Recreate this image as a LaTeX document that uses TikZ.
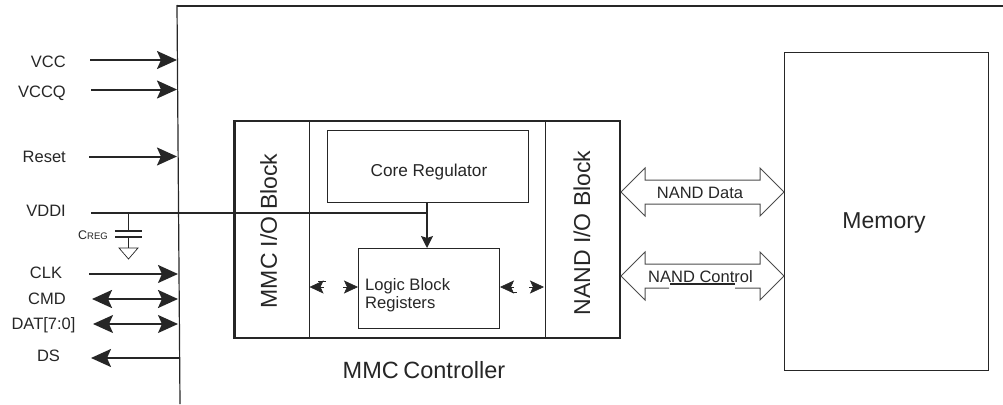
\documentclass[tikz,border=0pt]{standalone}
\usepackage{fontspec}
\setmainfont{Liberation Sans}
\usetikzlibrary{arrows.meta,positioning}
\colorlet{line edge}{black!85}
\colorlet{label ink}{black!85}
\tikzset{x=1pt,y=-1pt,
    bighead/.tip={Stealth[length=20pt,width=18pt,inset=4pt]},
    siglabel/.style={inner sep=0pt, text depth=0pt, text=label ink, font=\fontsize{16.5}{17}\selectfont},
    bigin/.style={draw=line edge, line width=2pt, -bighead},
    bigboth/.style={draw=line edge, line width=2pt, bighead-bighead},
    smallhead/.style={draw=line edge, line width=.6pt, -{Stealth[length=14pt,width=13pt,inset=3pt]}},
    thinbox/.style={draw=line edge, line width=1pt, inner sep=0pt},
    busarrow/.style={draw=black!70, line width=1pt, line join=miter},
    blocktext/.style={inner sep=0pt, text depth=0pt, text=label ink, font=\fontsize{23}{24}\selectfont}}

\begin{document}
\begin{tikzpicture}
    \useasboundingbox (0,0) rectangle (1003,404);
    % chip outline
    \draw[line edge, line width=2pt] (1003,6) -- (177,6);
    \draw[line edge, line width=1.2pt] (177,5) -- (180,404);
    \coordinate (vccin)   at (177,60);
    \coordinate (vccqin)  at (177,89.5);
    \coordinate (resetin) at (177,156.5);
    \coordinate (clkin)   at (178,274);
    \coordinate (cmdin)   at (178,299);
    \coordinate (datin)   at (178,324);
    \coordinate (dsin)    at (179,358);
    % controller
    \node[draw=line edge, line width=2pt, inner sep=0pt, minimum width=386pt, minimum height=217pt, anchor=north west] (ctrl) at (233,120) {};
    \draw[line edge, line width=1pt] (235.5,120) -- (235.5,337);
    \draw[line edge, line width=.9pt] (309.5,120) -- (309.5,337);
    \draw[line edge, line width=.9pt] (545,120) -- (545,337);
    \node[thinbox, minimum width=201pt, minimum height=72pt, anchor=north west] (core) at (327,130) {};
    \node[siglabel, font=\fontsize{17.2}{18}\selectfont] (corelabel) at (429,170) {Core Regulator};
    \node[thinbox, minimum width=141pt, minimum height=80pt, anchor=north west] (logic) at (358,248) {};
    \node[siglabel, align=left, anchor=west, text depth=, font=\fontsize{16.6}{17.5}\selectfont] (logiclabel) at (365,295) {Logic Block\\Registers};
    \node[blocktext, rotate=90] (mmcio) at (268.5,231) {MMC I/O Block};
    \node[blocktext, rotate=90] (nandio) at (581.7,233) {NAND I/O Block};
    \node[blocktext, font=\fontsize{23.5}{24}\selectfont] (ctrllabel) at (424,370) {MMC\hspace{-2pt} Controller};
    % memory
    \node[thinbox, minimum width=204pt, minimum height=317pt, anchor=north west] (memory) at (784,52.5) {};
    \node[blocktext] (memlabel) at (884,221) {Memory};
    % pins
    \node[siglabel, anchor=east] (vcc) at (66,61.5) {VCC};
    \node[siglabel, anchor=east] (vccq) at (66,91.5) {VCCQ};
    \node[siglabel, anchor=east] (reset) at (66,156.5) {Reset};
    \node[siglabel, anchor=east] (vddi) at (66,211) {VDDI};
    \node[siglabel] (clk) at (46,273) {CLK};
    \node[siglabel] (cmd) at (47,299) {CMD};
    \node[siglabel] (dat) at (43.5,324) {DAT[7:0]};
    \node[siglabel] (ds) at (48.5,356) {DS};
    \draw[bigin] ([xshift=24]vcc.east |- vccin) -- (vccin);
    \draw[bigin] ([xshift=25]vccq.east |- vccqin) -- (vccqin);
    \draw[bigin] ([xshift=23]reset.east |- resetin) -- (resetin);
    \draw[bigin] ([xshift=23]reset.east |- clkin) -- (clkin);
    \draw[bigboth, line width=2.5pt] ([xshift=26]reset.east |- cmdin) -- (cmdin);
    \draw[bigboth, line width=1.5pt] ([xshift=27]reset.east |- datin) -- (datin);
    \draw[bigin] (dsin) -- ([xshift=25]reset.east |- dsin);
    % vddi rail
    \coordinate (railend) at (427,212.5);
    \draw[line edge, line width=2pt] ([xshift=25]vddi.east |- railend) -- (railend);
    \draw[line edge, line width=1.3pt] (core.south -| railend) -- (railend);
    \draw[line edge, line width=1.3pt, -{Stealth[length=12pt,width=12pt,inset=2pt]}] (railend) -- (logic.north -| railend);
    % creg
    \coordinate (cregtop) at (128,212.5);
    \coordinate (plateup) at (128,231);
    \coordinate (platedn) at (128,237);
    \coordinate (gndtop) at (128,248);
    \draw[line edge, line width=1pt] (cregtop) -- (plateup);
    \draw[line edge, line width=1.3pt] (115,231) -- (141.5,231);
    \draw[line edge, line width=1.3pt] (115,237) -- (141.5,237);
    \draw[line edge, line width=1pt] (platedn) -- (gndtop);
    \draw[line edge, line width=.7pt] (119,248) -- (138,248) -- (128.5,259) -- cycle;
    \node[siglabel, anchor=east, font=\fontsize{12.5}{14}\selectfont] (creg) at (108,235) {C{\fontsize{9.5}{12}\selectfont REG}};
    % small heads
    \coordinate (lefta) at (324,287);
    \coordinate (leftb) at (343,287);
    \coordinate (righta) at (514,287);
    \coordinate (rightb) at (529,287);
    \coordinate (lefttip) at (309.5,287);
    \coordinate (righttip) at (544,287);
    \draw[smallhead] (lefta) -- (lefttip);
    \draw[smallhead] (leftb) -- (logic.west |- leftb);
    \draw[smallhead] (righta) -- (logic.east |- righta);
    \draw[smallhead] (rightb) -- (righttip);
    \draw[line edge, line width=1pt] (318,281) -- (326,281);
    \draw[line edge, line width=1pt] (512,292) -- (517,292);
    % nand buses
    \coordinate (datal) at (621,192);
    \coordinate (datar) at (784,192);
    \coordinate (ctll) at (621,276);
    \coordinate (ctlr) at (784,276);
    \draw[busarrow] (datal) -- ++(24,-24) -- ++(0,12) -- ++(115,0) -- ++(0,-12) -- (datar) -- ++(-24,24) -- ++(0,-12) -- ++(-115,0) -- ++(0,12) -- cycle;
    \draw[busarrow] (669,288) -- (645,288) -- (645,300) -- (ctll) -- ++(24,-24) -- ++(0,12) -- ++(115,0) -- ++(0,-12) -- (ctlr) -- ++(-24,24) -- ++(0,-12) -- (735,288);
    \draw[line edge, line width=1.2pt] (670,284) -- (735,284);
    \node[siglabel] (datalabel) at (700,193) {NAND Data};
    \node[siglabel] (ctllabel) at (700.5,276.5) {NAND Control};
\end{tikzpicture}
\end{document}
